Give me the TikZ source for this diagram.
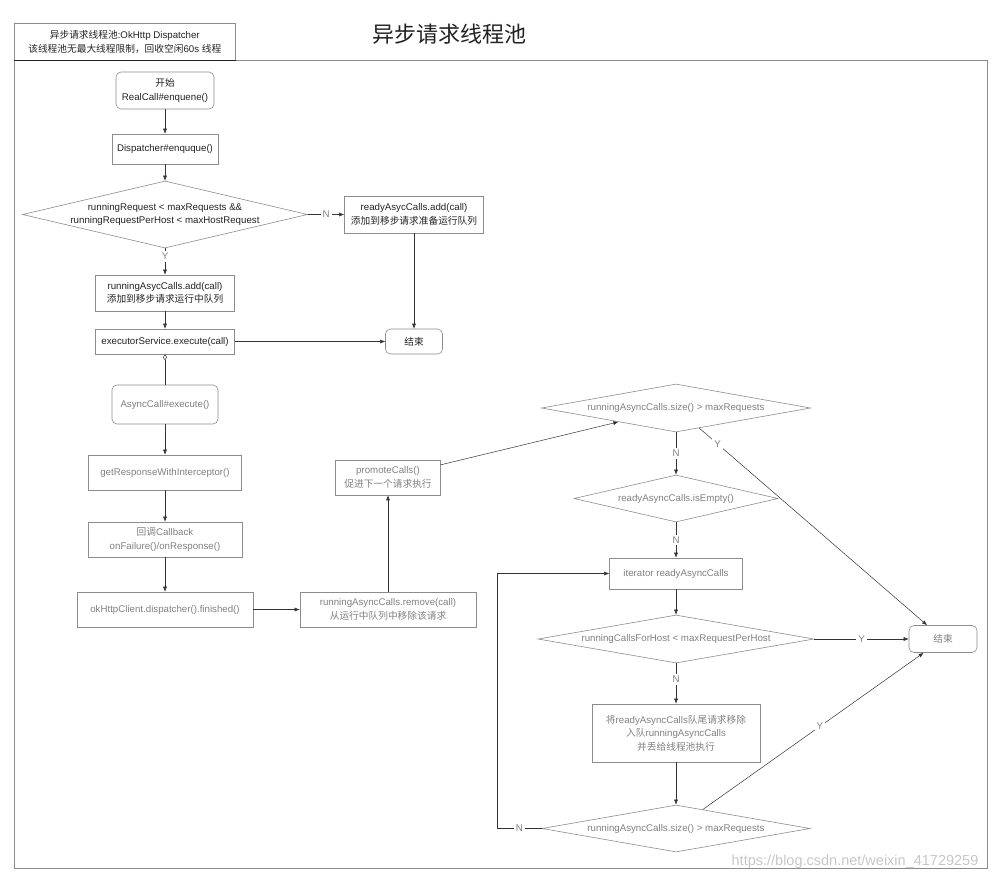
\documentclass[tikz,border=0pt]{standalone}
\usepackage{fontspec}
\setmainfont{Liberation Sans}
\newfontfamily\cjk{Noto Sans CJK SC}
\usetikzlibrary{shapes.geometric,arrows.meta}
\definecolor{dk}{HTML}{222222}
\definecolor{lt}{HTML}{808080}
\definecolor{bd}{HTML}{8C8C8C}
\definecolor{ln}{HTML}{333333}
\tikzset{
  base/.style={draw=bd, line width=0.6pt, inner sep=0pt, align=center,
    font=\fontsize{9.7}{13.5}\selectfont},
  boxd/.style={base, rectangle, text=dk},
  boxl/.style={base, rectangle, text=lt},
  rboxd/.style={boxd, rounded corners=5pt},
  rboxl/.style={boxl, rounded corners=5pt},
  dia/.style={draw=bd, line width=0.6pt, inner sep=0pt, diamond},
  dtl/.style={text=lt, align=center, inner sep=0pt, font=\fontsize{9.7}{13.5}\selectfont},
  dtd/.style={dtl, text=dk},
  arr/.style={draw=ln, line width=0.5pt, -{Latex[length=5pt,width=4pt]}},
  lab/.style={fill=white, inner sep=2pt, text=lt, font=\fontsize{9.7}{12}\selectfont},
}
\begin{document}
\begin{tikzpicture}[x=1pt,y=-1pt]
\path[use as bounding box] (0,0) rectangle (1000,881);
% frame and header
\draw[bd, line width=0.6pt] (14,60) rectangle (987,868);
\node[boxd, minimum width=221pt, minimum height=37pt, anchor=north west] (hdr) at (14,23)
  {{\cjk 异步请求线程池}:OkHttp Dispatcher\\{\cjk 该线程池无最大线程限制，回收空闲}60s {\cjk 线程}};
\draw[dk, line width=0.9pt] (hdr.south west) -- (hdr.south east);
\node[text=dk, font=\cjk\fontsize{22}{24}\selectfont] (title) at (449,34) {异步请求线程池};
% left column
\node[rboxd, minimum width=98pt, minimum height=37pt] (start) at (165,90.5) {{\cjk 开始}\\RealCall\#enquene()};
\node[boxd, minimum width=106pt, minimum height=30pt] (disp) at (165,149) {Dispatcher\#enquque()};
\node[dia, minimum width=285pt, minimum height=67pt,
  label={[dtd]center:runningRequest < maxRequests \&\&\\runningRequestPerHost < maxHostRequest}] (d1) at (165,214.5) {};
\node[boxd, minimum width=139pt, minimum height=37pt] (ready) at (414,214.5)
  {readyAsycCalls.add(call)\\{\cjk 添加到移步请求准备运行队列}};
\node[boxd, minimum width=139pt, minimum height=36pt] (runadd) at (165,293)
  {runningAsycCalls.add(call)\\{\cjk 添加到移步请求运行中队列}};
\node[boxd, minimum width=139pt, minimum height=25pt] (exec) at (165,341.5) {executorService.execute(call)};
\node[rboxd, minimum width=57pt, minimum height=25pt] (end1) at (414,341.5) {\cjk 结束};
\node[rboxl, minimum width=106pt, minimum height=39pt] (asyncx) at (165,404.5) {AsyncCall\#execute()};
\node[boxl, minimum width=153pt, minimum height=35pt] (getr) at (165,472.5) {getResponseWithInterceptor()};
\node[boxl, minimum width=154pt, minimum height=35pt] (cb) at (165,539.5) {{\cjk 回调}Callback\\onFailure()/onResponse()};
\node[boxl, minimum width=176pt, minimum height=35pt] (fin) at (165,609.5) {okHttpClient.dispatcher().finished()};
\node[boxl, minimum width=176pt, minimum height=35pt] (rem) at (388,609.5)
  {runningAsyncCalls.remove(call)\\{\cjk 从运行中队列中移除该请求}};
\node[boxl, minimum width=105pt, minimum height=35pt] (prom) at (388,477.5)
  {promoteCalls()\\{\cjk 促进下一个请求执行}};
% right column
\node[dia, minimum width=269pt, minimum height=48pt,
  label={[dtl]center:runningAsyncCalls.size() > maxRequests}] (d2) at (676,408) {};
\node[dia, minimum width=204pt, minimum height=47pt,
  label={[dtl]center:readyAsyncCalls.isEmpty()}] (d3) at (676,498.5) {};
\node[boxl, minimum width=133pt, minimum height=31pt] (iter) at (676,573.5) {iterator readyAsyncCalls};
\node[dia, minimum width=276pt, minimum height=48pt,
  label={[dtl]center:runningCallsForHost < maxRequestPerHost}] (d4) at (676,639) {};
\node[rboxl, minimum width=68pt, minimum height=27pt] (end2) at (943,639) {\cjk 结束};
\node[boxl, minimum width=168pt, minimum height=58pt] (move) at (676,733)
  {{\cjk 将}readyAsyncCalls{\cjk 队尾请求移除}\\{\cjk 入队}runningAsyncCalls\\{\cjk 并丢给线程池执行}};
\node[dia, minimum width=268pt, minimum height=47pt,
  label={[dtl]center:runningAsyncCalls.size() > maxRequests}] (d5) at (676,828.5) {};
\coordinate (loopc) at (497,828.5);
% connectors
\draw[arr] (start) -- (disp);
\draw[arr] (disp) -- (d1);
\draw[arr] (d1.east) -- node[lab]{N} (ready.west);
\draw[arr] (d1.south) -- node[lab, pos=0.3]{Y} (runadd.north);
\draw[arr] (runadd) -- (exec);
\draw[arr] (exec) -- (end1);
\draw[arr] (ready) -- (end1);
\draw[draw=ln, line width=0.5pt, {Diamond[open,length=6pt,width=4pt]}-] (exec.south) -- (asyncx.north);
\draw[arr] (asyncx) -- (getr);
\draw[arr] (getr) -- (cb);
\draw[arr] (cb) -- (fin);
\draw[arr] (fin) -- (rem);
\draw[arr] (rem) -- (prom);
\draw[arr] (prom) -- (d2);
\draw[arr] (d2.south) -- node[lab]{N} (d3.north);
\draw[arr] (d2) -- node[lab, pos=0.08]{Y} (end2);
\draw[arr] (d3.south) -- node[lab]{N} (iter.north);
\draw[arr] (iter) -- (d4);
\draw[arr] (d4.east) -- node[lab]{Y} (end2.west);
\draw[arr] (d4.south) -- node[lab, pos=0.4]{N} (move.north);
\draw[arr] (move) -- (d5);
\draw[arr] (d5) -- node[lab, pos=0.53]{Y} (end2);
\draw[arr] (d5.west) -- node[lab]{N} (loopc) |- (iter.west);
% watermark
\node[text=black!22, font=\fontsize{14.5}{16}\selectfont] (wm) at (855,862) {https://blog.csdn.net/weixin\_41729259};
\end{tikzpicture}
\end{document}
